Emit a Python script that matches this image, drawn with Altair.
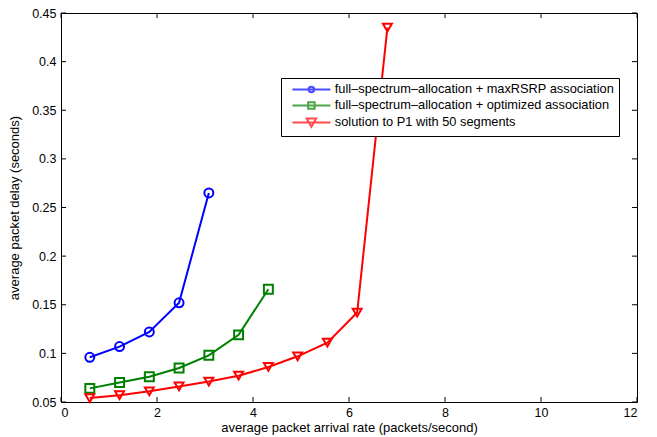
import altair as alt
import pandas as pd

S1 = "full–spectrum–allocation + maxRSRP association"
S2 = "full–spectrum–allocation + optimized association"
S3 = "solution to P1 with 50 segments"

x_blue = [0.60, 1.22, 1.84, 2.46, 3.08]
y_blue = [0.096, 0.107, 0.122, 0.152, 0.265]
x_green = [0.60, 1.22, 1.84, 2.46, 3.08, 3.70, 4.32]
y_green = [0.064, 0.070, 0.076, 0.085, 0.098, 0.119, 0.166]
x_red = [0.60, 1.22, 1.84, 2.46, 3.08, 3.70, 4.32, 4.93, 5.55, 6.17, 6.80]
y_red = [0.054, 0.057, 0.061, 0.066, 0.071, 0.077, 0.086, 0.097, 0.111, 0.142, 0.435]

x_ticks = [0, 2, 4, 6, 8, 10, 12]
y_ticks = [0.05, 0.1, 0.15, 0.2, 0.25, 0.3, 0.35, 0.4, 0.45]

series = [S1, S2, S3]
colors = ["#0000ff", "#008000", "#ff0000"]
shapes = ["circle", "square", "triangle-down"]
# legend symbols: a line segment with the series marker on it
legend_symbols = [
    "M-3.8,0H3.8M0.55,0A0.55,0.55,0,1,1,-0.55,0A0.55,0.55,0,1,1,0.55,0Z",
    "M-3.8,0H3.8M-0.65,-0.65H0.65V0.65H-0.65Z",
    "M-3.8,0H3.8M-0.95,-0.8L0.95,-0.8L0,0.85Z",
]

rows = []
for name, xs, ys in [(S1, x_blue, y_blue), (S2, x_green, y_green), (S3, x_red, y_red)]:
    for i, (a, b) in enumerate(zip(xs, ys)):
        rows.append({"series": name, "x": a, "y": b, "i": i})
df = pd.DataFrame(rows)

W, H = 576, 389
FONT = "Liberation Sans"

xscale = alt.Scale(domain=[0, 12], nice=False, zero=False)
yscale = alt.Scale(domain=[0.05, 0.45], nice=False, zero=False)

xaxis = alt.Axis(values=x_ticks, title="average packet arrival rate (packets/second)",
                 tickSize=0, domain=False, grid=False, labelPadding=4, titlePadding=3)
yaxis = alt.Axis(values=y_ticks, format="~g", title="average packet delay (seconds)",
                 tickSize=0, domain=False, grid=False, labelPadding=5, titlePadding=10)


def X(field):
    return alt.X(field, scale=xscale, axis=xaxis)


def Y(field):
    return alt.Y(field, scale=yscale, axis=yaxis)


def cscale():
    return alt.Scale(domain=series, range=colors)


legend = alt.Legend(
    title=None,
    orient="none",
    legendX=220,
    legendY=65,
    fillColor="white",
    strokeColor="black",
    padding=5,
    rowPadding=1,
    labelFont=FONT,
    labelFontSize=12.8,
    labelColor="black",
    labelLimit=400,
    symbolSize=100,
    symbolOffset=19,
    labelOffset=17,
    symbolStrokeWidth=2,
)

lines = alt.Chart(df).mark_line(strokeWidth=2).encode(
    x=X("x:Q"), y=Y("y:Q"),
    color=alt.Color("series:N", scale=cscale(), legend=None),
    order="i:Q",
)

points = alt.Chart(df).mark_point(filled=False, strokeWidth=2, size=80, opacity=1).encode(
    x=X("x:Q"), y=Y("y:Q"),
    color=alt.Color("series:N", scale=cscale(), legend=None),
    shape=alt.Shape("series:N", scale=alt.Scale(domain=series, range=shapes), legend=None),
)

# legend carrier: draws nothing (all rows filtered out), only feeds the legend
legend_layer = alt.Chart(df).mark_point(filled=False, strokeWidth=2, size=100).encode(
    x=X("x:Q"), y=Y("y:Q"),
    color=alt.Color("series:N", scale=cscale(), legend=legend),
    shape=alt.Shape("series:N", scale=alt.Scale(domain=series, range=legend_symbols), legend=legend),
).transform_filter("false")

xt = pd.DataFrame({"x": x_ticks})
yt = pd.DataFrame({"y": y_ticks})
tb = alt.Chart(xt).mark_rule(color="black", strokeWidth=1).encode(
    x=X("x:Q"), y=alt.value(H), y2=alt.value(H - 5))
tt = alt.Chart(xt).mark_rule(color="black", strokeWidth=1).encode(
    x=X("x:Q"), y=alt.value(0), y2=alt.value(5))
tl = alt.Chart(yt).mark_rule(color="black", strokeWidth=1).encode(
    y=Y("y:Q"), x=alt.value(0), x2=alt.value(5))
tr = alt.Chart(yt).mark_rule(color="black", strokeWidth=1).encode(
    y=Y("y:Q"), x=alt.value(W), x2=alt.value(W - 5))

chart = alt.layer(lines, points, legend_layer, tb, tt, tl, tr).resolve_scale(
    color="independent", shape="independent"
).properties(
    width=W, height=H,
    autosize=alt.AutoSizeParams(type="none"),
    padding={"left": 53, "top": 5, "right": 12, "bottom": 35},
    background="white",
).configure_view(stroke="black", strokeWidth=1).configure_axis(
    labelFont=FONT, labelFontSize=12.5, labelColor="black",
    titleFont=FONT, titleFontSize=13, titleColor="black", titleFontWeight="normal",
)

chart.save("out.html", embed_options={"renderer": "svg", "actions": False})
